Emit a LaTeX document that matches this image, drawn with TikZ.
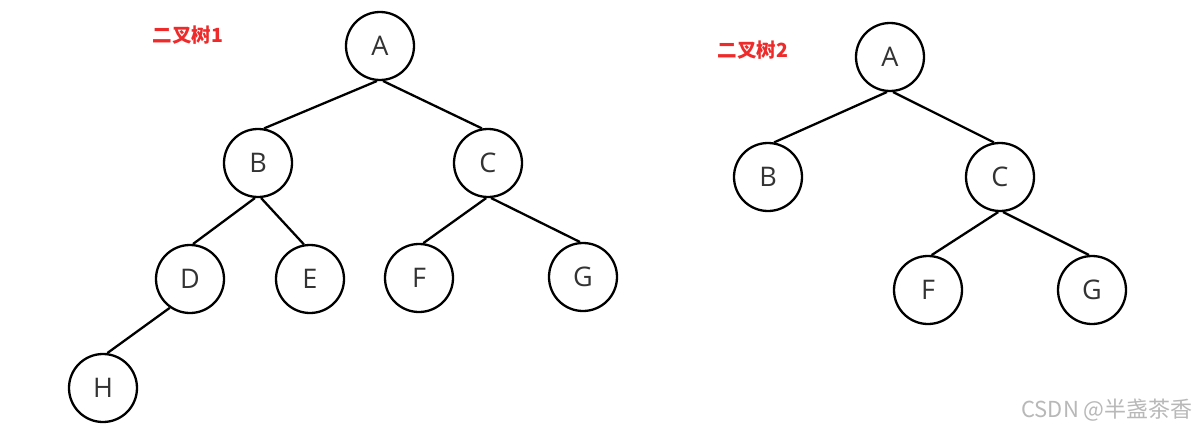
\documentclass[tikz,border=0pt]{standalone}
\usepackage{fontspec}
\setmainfont{Open Sans}
\newfontfamily\cjkfont{Noto Sans CJK SC}
\usepackage{tikz}
\definecolor{labelred}{HTML}{EE2A2A}
\definecolor{markgray}{HTML}{B8B8B8}
\definecolor{lettergray}{HTML}{333333}

\begin{document}
\begin{tikzpicture}[x=1pt,y=-1pt,
  treenode/.style={circle,draw,line width=2.3pt,inner sep=0pt,minimum size=68pt,
    text=lettergray,font=\fontsize{27}{27}\selectfont},
  edge/.style={line width=2.3pt},
  treelabel/.style={text=labelred,font=\cjkfont\bfseries\fontsize{19.5}{19.5}\selectfont}]
\useasboundingbox (0,0) rectangle (1199,431);
\fill[white] (0,0) rectangle (1199,431);
% first tree
\node[treelabel] (lbl1) at (188,35) {二叉树1};
\node[treenode] (a1) at (380,46) {A};
\node[treenode] (b1) at (258,163) {B};
\node[treenode] (c1) at (488,163) {C};
\node[treenode] (d1) at (190,279) {D};
\node[treenode] (e1) at (310,279) {E};
\node[treenode] (f1) at (419,278) {F};
\node[treenode] (g1) at (583,277) {G};
\node[treenode] (h1) at (103,388) {H};
\draw[edge] (a1.-95) -- (b1.80);
\draw[edge] (a1.-85) -- (c1.100);
\draw[edge] (b1.-95) -- (d1.85);
\draw[edge] (b1.-85) -- (e1.100);
\draw[edge] (c1.-93) -- (f1.83);
\draw[edge] (c1.-85) -- (g1.95);
\draw[edge] (d1.-125) -- (h1.83);
% second tree
\node[treelabel] (lbl2) at (753,50) {二叉树2};
\node[treenode] (a2) at (890,57) {A};
\node[treenode] (b2) at (768,177) {B};
\node[treenode] (c2) at (1000,177) {C};
\node[treenode] (f2) at (928,290) {F};
\node[treenode] (g2) at (1092,290) {G};
\draw[edge] (a2.-95) -- (b2.80);
\draw[edge] (a2.-85) -- (c2.100);
\draw[edge] (c2.-93) -- (f2.84);
\draw[edge] (c2.-85) -- (g2.95);
% watermark
\node[text=markgray,font=\cjkfont\fontsize{22}{22}\selectfont] (mark) at (1107,410) {CSDN @半盏茶香};
\end{tikzpicture}
\end{document}
